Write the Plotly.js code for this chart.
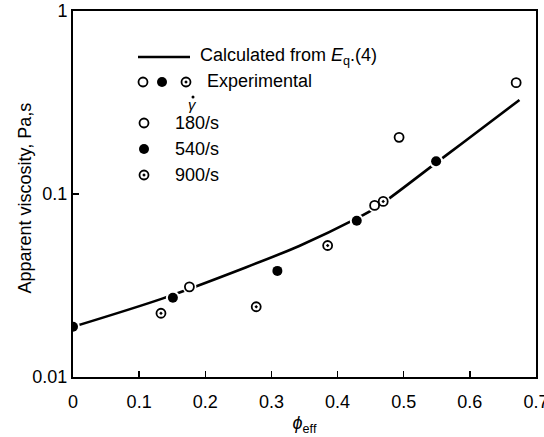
<!DOCTYPE html>
<html>
<head>
<meta charset="utf-8">
<script src="https://cdn.plot.ly/plotly-3.0.1.min.js"></script>
<style>html,body{margin:0;padding:0;background:#fff;}#chart{width:544px;height:437px;}</style>
</head>
<body>
<div id="chart"></div>
<script>
// Calculated curve (Eq. 4)
const fitPhi  = [0, 0.136, 0.262, 0.342, 0.429, 0.46, 0.549, 0.589, 0.675];
const fitVisc = [0.0188, 0.0269, 0.0398, 0.052, 0.0735, 0.085, 0.148, 0.19, 0.326];

// Experimental, shear rate 180/s
const phi180  = [0.176, 0.456, 0.493, 0.670];
const visc180 = [0.0311, 0.0866, 0.204, 0.406];
// Experimental, shear rate 540/s
const phi540  = [0, 0.151, 0.309, 0.429, 0.549];
const visc540 = [0.0188, 0.0271, 0.0380, 0.0714, 0.151];
// Experimental, shear rate 900/s
const phi900  = [0.133, 0.277, 0.385, 0.469];
const visc900 = [0.0223, 0.0242, 0.0523, 0.0911];

const xTicks = [0, 0.1, 0.2, 0.3, 0.4, 0.5, 0.6, 0.7];
const xTickText = ['0', '0.1', '0.2', '0.3', '0.4', '0.5', '0.6', '0.7'];
const yTicks = [0.01, 0.1, 1];
const yTickText = ['0.01', '0.1', '1'];

const xTitle = '<i>ϕ</i><sub>eff</sub>';
const yTitle = 'Apparent viscosity, Pa,s';
const legendLine = 'Calculated from <i>E</i><sub>q</sub>.(4)';
const legendExp = 'Experimental';
const legendRates = ['180/s', '540/s', '900/s'];

const FONT = 'Liberation Sans, Arial, Helvetica, sans-serif';
const openM = {symbol: 'circle-open', size: 9, color: '#000', line: {width: 1.8, color: '#000'}};
const fillM = {symbol: 'circle', size: 10, color: '#000', line: {width: 0}};
const dotM  = {symbol: 'circle-open-dot', size: 9, color: '#000', line: {width: 1.8, color: '#000'}};

const allPhi = phi180.concat(phi540, phi900);
const allVisc = visc180.concat(visc540, visc900);

// Legend key placement (overlay axes in pixel units)
const key = {
  lineX: [138, 190], lineY: 57,
  expX: [143, 162, 186], expY: 82,
  rateX: 144, rateY: [123, 149, 175],
  textLineX: 198, textExpX: 205, textRateX: 173,
  gammaX: 192, gammaY: 104, gammaDotY: 97
};

const traces = [
  {x: fitPhi, y: fitVisc, mode: 'lines', line: {color: '#000', width: 2.6, shape: 'spline', smoothing: 0.8}, hoverinfo: 'skip'},
  {x: allPhi, y: allVisc, mode: 'markers', marker: {symbol: 'circle', size: 14, color: '#fff', line: {width: 0}}, hoverinfo: 'skip'},
  {x: phi180, y: visc180, mode: 'markers', marker: openM},
  {x: phi540, y: visc540, mode: 'markers', marker: fillM},
  {x: phi900, y: visc900, mode: 'markers', marker: dotM},
  // legend keys
  {x: key.lineX, y: [key.lineY, key.lineY], xaxis: 'x2', yaxis: 'y2', mode: 'lines', line: {color: '#000', width: 2.6}},
  {x: [key.expX[0], key.rateX], y: [key.expY, key.rateY[0]], xaxis: 'x2', yaxis: 'y2', mode: 'markers', marker: openM},
  {x: [key.expX[1], key.rateX], y: [key.expY, key.rateY[1]], xaxis: 'x2', yaxis: 'y2', mode: 'markers', marker: fillM},
  {x: [key.expX[2], key.rateX], y: [key.expY, key.rateY[2]], xaxis: 'x2', yaxis: 'y2', mode: 'markers', marker: dotM},
  {x: [key.gammaX + 1], y: [key.gammaDotY], xaxis: 'x2', yaxis: 'y2', mode: 'markers', marker: {symbol: 'circle', size: 3, color: '#000'}}
];

const ann = (x, y, text, extra) => Object.assign({
  x: x, y: y, xref: 'x2', yref: 'y2', text: text, showarrow: false,
  xanchor: 'left', yanchor: 'middle', font: {family: FONT, size: 18, color: '#000'}
}, extra || {});

const annotations = [
  ann(key.textLineX, key.lineY - 1, legendLine),
  ann(key.textExpX, key.expY - 1, legendExp),
  ann(key.gammaX, key.gammaY, '<i>γ</i>', {xanchor: 'center', font: {family: FONT, size: 15, color: '#000'}}),
  ann(key.textRateX, key.rateY[0], legendRates[0]),
  ann(key.textRateX, key.rateY[1], legendRates[1]),
  ann(key.textRateX, key.rateY[2], legendRates[2]),
  {x: -0.104, y: 0.49, xref: 'paper', yref: 'paper', text: yTitle, textangle: -90, showarrow: false,
   xanchor: 'center', yanchor: 'middle', font: {family: FONT, size: 18, color: '#000'}}
];

const axisCommon = {
  showline: true, linecolor: '#000', linewidth: 2, mirror: true,
  showgrid: false, zeroline: false, ticks: 'inside', ticklen: 6, tickwidth: 1.5, tickcolor: '#000',
  tickfont: {family: FONT, size: 18, color: '#000'}, ticklabeloverflow: 'allow'
};

const layout = {
  width: 544, height: 437,
  margin: {l: 73, r: 8, t: 11, b: 60},
  paper_bgcolor: '#fff', plot_bgcolor: '#fff',
  showlegend: false,
  font: {family: FONT, color: '#000'},
  xaxis: Object.assign({}, axisCommon, {
    range: [0, 0.7], tickmode: 'array', tickvals: xTicks, ticktext: xTickText, ticklabelstandoff: 7,
    title: {text: xTitle, font: {family: FONT, size: 18, color: '#000'}, standoff: 6}
  }),
  yaxis: Object.assign({}, axisCommon, {
    type: 'log', range: [-2, 0], tickmode: 'array', tickvals: yTicks, ticktext: yTickText
  }),
  xaxis2: {overlaying: 'x', anchor: 'y2', range: [73, 536], visible: false, fixedrange: true},
  yaxis2: {overlaying: 'y', anchor: 'x2', range: [377, 11], visible: false, fixedrange: true},
  annotations: annotations
};

Plotly.newPlot('chart', traces, layout, {displayModeBar: false, staticPlot: true});
</script>
</body>
</html>
